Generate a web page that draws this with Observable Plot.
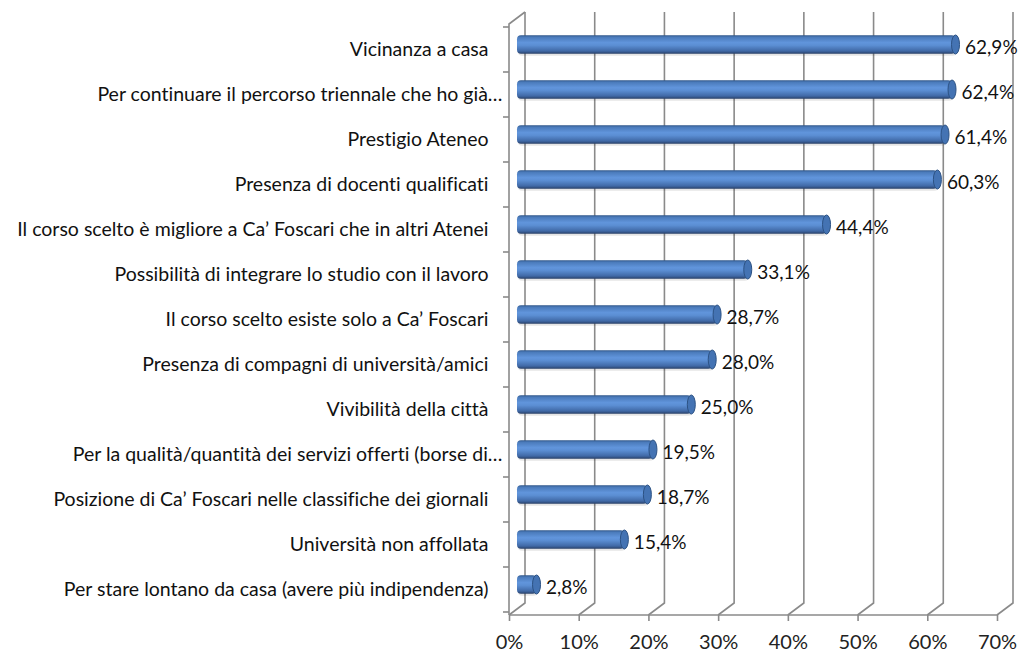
<!DOCTYPE html>
<html><head><meta charset="utf-8">
<script src="https://cdn.jsdelivr.net/npm/d3@7"></script>
<script src="https://cdn.jsdelivr.net/npm/@observablehq/plot@0.6"></script>
<style>body{margin:0;background:#fff} svg text{font-variant-ligatures:none;font-feature-settings:"liga" 0}</style>
</head><body><div id="chart"></div>
<script>
const categories = [
  "Vicinanza a casa",
  "Per continuare il percorso triennale che ho già…",
  "Prestigio Ateneo",
  "Presenza di docenti qualificati",
  "Il corso scelto è migliore a Ca’ Foscari che in altri Atenei",
  "Possibilità di integrare lo studio con il lavoro",
  "Il corso scelto esiste solo a Ca’ Foscari",
  "Presenza di compagni di università/amici",
  "Vivibilità della città",
  "Per la qualità/quantità dei servizi offerti (borse di…",
  "Posizione di Ca’ Foscari nelle classifiche dei giornali",
  "Università non affollata",
  "Per stare lontano da casa (avere più indipendenza)"
];
const values = [62.9, 62.4, 61.4, 60.3, 44.4, 33.1, 28.7, 28.0, 25.0, 19.5, 18.7, 15.4, 2.8];
const valueLabels = ["62,9%", "62,4%", "61,4%", "60,3%", "44,4%", "33,1%", "28,7%", "28,0%", "25,0%", "19,5%", "18,7%", "15,4%", "2,8%"];
const truncatedLabels = [categories[1], categories[9]];
const xTicks = [0, 10, 20, 30, 40, 50, 60, 70];
const xTickLabels = ["0%", "10%", "20%", "30%", "40%", "50%", "60%", "70%"];

const data = categories.map((c, i) => ({category: c, value: values[i], label: valueLabels[i]}));

const DX = 16, DY = 12;           // 3D depth offset
const GRID = "#8a8a8a";
const FONT = "Lato, 'Open Sans', sans-serif";

function defs() {
  const g = d3.create("svg:defs");
  const lg = g.append("linearGradient").attr("id", "cyl").attr("x1", 0).attr("y1", 0).attr("x2", 0).attr("y2", 1);
  [[0, "#2d5385"], [0.1, "#4a7aba"], [0.4, "#6195dc"], [0.55, "#5b8ed3"], [0.85, "#4069a6"], [1, "#283f66"]]
    .forEach(([o, c]) => lg.append("stop").attr("offset", o).attr("stop-color", c));
  return g.node();
}

function walls(index, scales, values, dims) {
  const {x, y} = scales;
  const top = dims.marginTop, bottom = dims.height - dims.marginBottom, left = dims.marginLeft;
  const g = d3.create("svg:g").attr("fill", "none").attr("stroke", GRID).attr("stroke-width", 1.6);
  for (const t of xTicks) {
    const px = x(t);
    g.append("path").attr("d", `M${px},${bottom} L${px + DX},${bottom - DY} L${px + DX},${top - DY}`);
  }
  g.append("path").attr("d", `M${left + DX},${top - DY} L${left},${top} L${left},${bottom}`);
  const bw = y.bandwidth();
  const bounds = categories.map(c => y(c)).concat([y(categories[categories.length - 1]) + bw]);
  for (const b of bounds) g.append("path").attr("d", `M${left - 6},${b} L${left},${b}`);
  g.append("path").attr("d", `M${left},${bottom} L${x(70)},${bottom}`);
  return g.node();
}

function caps(index, scales) {
  const {x, y} = scales;
  const bw = y.bandwidth();
  const g = d3.create("svg:g");
  for (const d of data) {
    g.append("ellipse")
      .attr("cx", x(d.value) + DX / 2)
      .attr("cy", y(d.category) + bw / 2 - 5)
      .attr("rx", 4).attr("ry", 9.5)
      .attr("fill", "#4473b3").attr("stroke", "#2c5284").attr("stroke-width", 1);
  }
  return g.node();
}

const chart = Plot.plot({
  width: 1018,
  height: 659,
  marginLeft: 509,
  marginRight: 21,
  marginTop: 24,
  marginBottom: 44,
  style: {fontFamily: FONT, background: "#fff"},
  x: {domain: [0, 70], axis: null},
  y: {domain: categories, padding: 0, axis: null},
  marks: [
    defs,
    walls,
    Plot.axisX({ticks: xTicks, tickFormat: (d, i) => xTickLabels[i], tickSize: 6, tickPadding: 13, label: null,
      stroke: GRID, strokeWidth: 1.6, fontSize: 20, fill: "#222", fontFamily: FONT}),
    Plot.barX(data, {x: "value", y: "category", fill: "#000", fillOpacity: 0.1,
      dx: DX / 2 + 1, dy: -3, insetTop: 13.2, insetBottom: 13.2, rx: 4}),
    Plot.barX(data, {x: "value", y: "category", fill: "url(#cyl)",
      dx: DX / 2, dy: -5, insetTop: 13.2, insetBottom: 13.2, rx: 4}),
    caps,
    Plot.text(data.filter(d => !truncatedLabels.includes(d.category)), {y: "category", text: "category",
      frameAnchor: "left", textAnchor: "end", dx: -21, fontSize: 19.5, fill: "#111"}),
    Plot.text(data.filter(d => truncatedLabels.includes(d.category)), {y: "category", text: "category",
      frameAnchor: "left", textAnchor: "end", dx: -7, fontSize: 19.5, fill: "#111"}),
    Plot.text(data, {x: "value", y: "category", text: "label", textAnchor: "start",
      dx: DX / 2 + 9, dy: -2, fontSize: 19, fill: "#111"})
  ]
});
document.getElementById("chart").appendChild(chart);
</script>
</body></html>
